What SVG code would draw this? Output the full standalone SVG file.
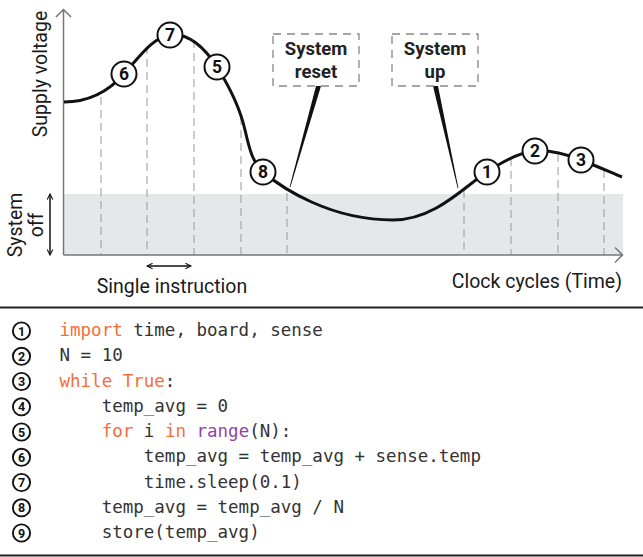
<svg xmlns="http://www.w3.org/2000/svg" width="643" height="557" viewBox="0 0 643 557">
<style>
.lbl{font-family:Roboto,"Liberation Sans",sans-serif;font-size:19.5px;fill:#1a1a1a}
.bx{font-family:Roboto,"Liberation Sans",sans-serif;font-size:18.5px;font-weight:bold;fill:#222;text-anchor:middle}
.num{font-family:Roboto,"Liberation Sans",sans-serif;font-size:17.5px;font-weight:bold;fill:#111;text-anchor:middle}
.cnum{font-family:Roboto,"Liberation Sans",sans-serif;font-size:12.5px;font-weight:bold;fill:#111;text-anchor:middle}
.code{font-family:"DejaVu Sans Mono","Liberation Mono",monospace;font-size:17.5px;fill:#333;white-space:pre}
.kw{fill:#f26f3a}
.fn{fill:#8e44ad}
.dash{stroke:#999;stroke-width:1;stroke-dasharray:8 5;fill:none}
.axis{stroke:#777;stroke-width:1.5;fill:none}
.mk{fill:#fff;stroke:#111;stroke-width:2}
.cmk{fill:#fff;stroke:#111;stroke-width:1.9}
.box{fill:none;stroke:#888;stroke-width:1.3;stroke-dasharray:8 6}
</style>
<defs>
<marker id="oa" viewBox="0 0 10 10" refX="9" refY="5" markerWidth="7" markerHeight="7" orient="auto-start-reverse" markerUnits="userSpaceOnUse">
<path d="M1,1 L9,5 L1,9" fill="none" stroke="#111" stroke-width="1.5"/>
</marker>
</defs>

<g id="chart-background">
<rect x="64" y="194" width="559" height="61" fill="#e6e7e9"/>
</g>

<g id="grid">
<line class="dash" x1="101" y1="97" x2="101" y2="255"/>
<line class="dash" x1="147" y1="46" x2="147" y2="255"/>
<line class="dash" x1="194" y1="40" x2="194" y2="255"/>
<line class="dash" x1="241" y1="117" x2="241" y2="255"/>
<line class="dash" x1="287" y1="193" x2="287" y2="255"/>
<line class="dash" x1="464" y1="190" x2="464" y2="255"/>
<line class="dash" x1="511" y1="158" x2="511" y2="255"/>
<line class="dash" x1="558" y1="154" x2="558" y2="255"/>
<line class="dash" x1="604" y1="170" x2="604" y2="255"/>
</g>

<g id="axes">
<path class="axis" d="M63.5,255 V9.5 M56,17 L63.5,9.5 L71,17"/>
<path class="axis" d="M63.5,255 H622.5 M615,247.5 L622.5,255 L615,262.5"/>
<text class="lbl" transform="translate(46.5,74) rotate(-90)" text-anchor="middle">Supply voltage</text>
<text class="lbl" x="622" y="288" text-anchor="end">Clock cycles (Time)</text>
</g>

<g id="system-off">
<line x1="50" y1="194" x2="50" y2="255" stroke="#111" stroke-width="1.5" marker-start="url(#oa)" marker-end="url(#oa)"/>
<text class="lbl" transform="translate(22,225) rotate(-90)" text-anchor="middle">System</text>
<text class="lbl" transform="translate(43,225) rotate(-90)" text-anchor="middle">off</text>
</g>

<g id="single-instruction">
<line x1="147" y1="266" x2="191" y2="266" stroke="#111" stroke-width="1.5" marker-start="url(#oa)" marker-end="url(#oa)"/>
<text class="lbl" x="172" y="293" text-anchor="middle">Single instruction</text>
</g>

<g id="connectors">
<path d="M64,102 C88,102 108,92 124,74 C140,56 152,38 170,35 C188,32 205,48 217,67 C229,86 240,108 245,130 C250,152 253,162 263,172 C282,188 330,220 393,220 C435,220 465,186 487,172 C502,162 520,152 535,151 C550,150 568,155 581,160 C594,165 610,172 622,177" fill="none" stroke="#111" stroke-width="3"/>
<polygon points="316,86 321,86 290.4,187 289.6,187" fill="#111"/>
<polygon points="433,86 438,86 458.4,188 457.6,188" fill="#111"/>
</g>

<g id="box-reset">
<rect class="box" x="273" y="34" width="86" height="52"/>
<text class="bx" x="316" y="55">System</text>
<text class="bx" x="316" y="78">reset</text>
</g>

<g id="box-up">
<rect class="box" x="392" y="34" width="86" height="52"/>
<text class="bx" x="435" y="55">System</text>
<text class="bx" x="435" y="78">up</text>
</g>

<g id="m6"><circle class="mk" cx="124" cy="74" r="12.5"/><text class="num" x="124" y="80.3">6</text></g>
<g id="m7"><circle class="mk" cx="170" cy="35" r="12.5"/><text class="num" x="170" y="41.3">7</text></g>
<g id="m5"><circle class="mk" cx="217" cy="67" r="12.5"/><text class="num" x="217" y="73.3">5</text></g>
<g id="m8"><circle class="mk" cx="263" cy="172" r="12.5"/><text class="num" x="263" y="178.3">8</text></g>
<g id="m1"><circle class="mk" cx="487" cy="172" r="12.5"/><text class="num" x="487" y="178.3">1</text></g>
<g id="m2"><circle class="mk" cx="535" cy="151" r="12.5"/><text class="num" x="535" y="157.3">2</text></g>
<g id="m3"><circle class="mk" cx="581" cy="160" r="12.5"/><text class="num" x="581" y="166.3">3</text></g>

<g id="separators">
<line x1="0" y1="307.5" x2="643" y2="307.5" stroke="#222" stroke-width="2"/>
<line x1="0" y1="555.5" x2="643" y2="555.5" stroke="#222" stroke-width="2"/>
</g>

<g id="code">
<g><circle class="cmk" cx="21.5" cy="331" r="8.6"/><text class="cnum" x="21.5" y="335.5">1</text>
<text class="code" x="59.5" y="336"><tspan class="kw">import</tspan> time, board, sense</text></g>
<g><circle class="cmk" cx="21.5" cy="356.3" r="8.6"/><text class="cnum" x="21.5" y="360.8">2</text>
<text class="code" x="59.5" y="361.3">N = 10</text></g>
<g><circle class="cmk" cx="21.5" cy="381.5" r="8.6"/><text class="cnum" x="21.5" y="386">3</text>
<text class="code" x="59.5" y="386.5"><tspan class="kw">while True</tspan>:</text></g>
<g><circle class="cmk" cx="21.5" cy="406.8" r="8.6"/><text class="cnum" x="21.5" y="411.3">4</text>
<text class="code" x="59.5" y="411.8">    temp_avg = 0</text></g>
<g><circle class="cmk" cx="21.5" cy="432" r="8.6"/><text class="cnum" x="21.5" y="436.5">5</text>
<text class="code" x="59.5" y="437">    <tspan class="kw">for</tspan> i <tspan class="kw">in</tspan> <tspan class="fn">range</tspan>(N):</text></g>
<g><circle class="cmk" cx="21.5" cy="457.3" r="8.6"/><text class="cnum" x="21.5" y="461.8">6</text>
<text class="code" x="59.5" y="462.3">        temp_avg = temp_avg + sense.temp</text></g>
<g><circle class="cmk" cx="21.5" cy="482.5" r="8.6"/><text class="cnum" x="21.5" y="487">7</text>
<text class="code" x="59.5" y="487.5">        time.sleep(0.1)</text></g>
<g><circle class="cmk" cx="21.5" cy="507.8" r="8.6"/><text class="cnum" x="21.5" y="512.3">8</text>
<text class="code" x="59.5" y="512.8">    temp_avg = temp_avg / N</text></g>
<g><circle class="cmk" cx="21.5" cy="533" r="8.6"/><text class="cnum" x="21.5" y="537.5">9</text>
<text class="code" x="59.5" y="538">    store(temp_avg)</text></g>
</g>
</svg>
